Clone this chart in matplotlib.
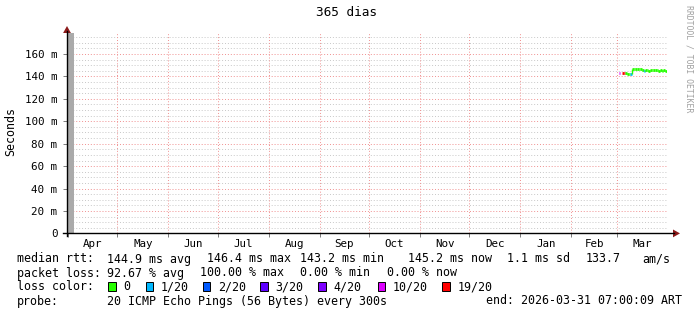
import numpy as np
import matplotlib
matplotlib.use("Agg")
import matplotlib.pyplot as plt
import matplotlib.dates as mdates
from datetime import datetime, timedelta

# ---------------- data ----------------
start = datetime(2025, 3, 31, 7, 0, 9)
end = datetime(2026, 3, 31, 7, 0, 9)

# unknown / gray strip at start
unknown_start = start
unknown_end = datetime(2025, 4, 4, 12, 0)

# daily medians (ms) and loss counts (out of 20) in March 2026
days = [datetime(2026, 3, d) for d in range(2, 32)]
median_ms = [143.5, np.nan, 143.5, 143.5, 142.8, 142.6, 142.6, 142.2,
             146.3, 146.4, 146.3, 146.2, 146.4, 146.3, 146.0, 144.7,
             145.3, 145.3, 145.2, 145.3, 145.4, 145.6, 145.5, 145.3,
             145.2, 145.3, 145.2, 145.3, 145.2, 145.2]
loss = [10, 0, 19, 19, 0, 0, 0, 1,
        0, 0, 0, 0, 0, 0, 0, 1,
        0, 0, 0, 0, 0, 0, 0, 0,
        0, 0, 0, 0, 0, 0]

loss_levels = [0, 1, 2, 3, 4, 10, 19]
loss_labels = ["0", "1/20", "2/20", "3/20", "4/20", "10/20", "19/20"]
loss_colors = ["#26ff00", "#00b8ff", "#0059ff", "#5e00ff", "#7e00ff", "#dd00ff", "#ff0000"]

yticks = [0, 20, 40, 60, 80, 100, 120, 140, 160]
ymax = 179

legend_rows = [
    [("median rtt:", 16.7), ("144.9 ms avg", 107.3), ("146.4 ms max", 207.3),
     ("143.2 ms min", 300.0), ("145.2 ms now", 407.7), ("1.1 ms sd", 506.7),
     ("133.7", 586.0), ("am/s", 642.7)],
    [("packet loss:", 16.7), ("92.67 % avg", 107.3), ("100.00 % max", 200.0),
     ("0.00 % min", 300.0), ("0.00 % now", 386.7)],
]
loss_box_x = [108.3, 145.7, 202.7, 260.0, 318.3, 377.7, 442.3]
probe_text = "20 ICMP Echo Pings (56 Bytes) every 300s"
end_text = "end: 2026-03-31 07:00:09 ART"

# ---------------- figure ----------------
W, H = 697, 315
fig = plt.figure(figsize=(W / 100, H / 100), dpi=100)
fig.patch.set_facecolor("white")
MONO = "DejaVu Sans Mono"

def fx(x):
    return x / W

def fy(y):
    return 1 - y / H

ax = fig.add_axes([fx(67), fy(233.4), 600 / W, 200.7 / H])
ax.set_facecolor("white")

xs = mdates.date2num(start)
xe = mdates.date2num(end)
ax.set_xlim(xs, xe)
ax.set_ylim(0, ymax)

# grids
for v in np.arange(5, ymax, 5):
    if v % 20 == 0:
        continue
    ax.axhline(v, color="#c8c8c8", lw=0.7, ls=(0, (1, 2)), zorder=1)
for v in yticks[1:]:
    ax.axhline(v, color="#f09090", lw=0.7, ls=(0, (1, 2)), zorder=1)

month_starts = []
d = datetime(2025, 4, 1)
while d <= end:
    month_starts.append(d)
    d = datetime(d.year + (d.month // 12), d.month % 12 + 1, 1)
for m in month_starts:
    ax.axvline(mdates.date2num(m), color="#f09090", lw=0.7, ls=(0, (1, 2)), zorder=1)

# month labels centered in months
label_pos = []
label_txt = []
bounds = [start] + month_starts + [datetime(2026, 4, 1)]
for a, b in zip(month_starts[:-0 or None], month_starts[1:] + [datetime(2026, 4, 1)]):
    mid = mdates.date2num(a) + (mdates.date2num(b) - mdates.date2num(a)) / 2
    label_pos.append(mid)
    label_txt.append(a.strftime("%b"))
ax.set_xticks([mdates.date2num(m) for m in month_starts])
ax.set_xticklabels([])
ax.set_xticks(label_pos, minor=True)
ax.set_xticklabels(label_txt, minor=True, fontfamily=MONO, fontsize=7.8)
ax.tick_params(axis="x", which="major", length=3, width=0.6, color="#666666")
ax.tick_params(axis="x", which="minor", length=0, pad=4)

ax.set_yticks(yticks)
ax.set_yticklabels(["0" if v == 0 else f"{v} m" for v in yticks],
                   fontfamily=MONO, fontsize=7.8)
ax.tick_params(axis="y", length=3, width=0.6, pad=4, color="#666666")

for s in ["top", "right", "bottom", "left"]:
    ax.spines[s].set_visible(False)

# gray strip
ax.fill_between([mdates.date2num(unknown_start), mdates.date2num(unknown_end)],
                0, ymax, color="#aaaaaa", lw=0, zorder=2)

# median line, colored by loss
cmap = dict(zip(loss_levels, loss_colors))
dn = [mdates.date2num(x) for x in days]
prev = None
for i, (t, v, l) in enumerate(zip(dn, median_ms, loss)):
    if np.isnan(v):
        prev = None
        continue
    c = cmap[l]
    ax.hlines(v, t, t + 1, color=c, lw=2.0, zorder=4)
    if prev is not None:
        ax.vlines(t, min(prev, v), max(prev, v), color=c, lw=1.0, zorder=4)
    prev = v

# axes lines with arrows
fig.add_artist(plt.Line2D([fx(63), fx(674)], [fy(233.4), fy(233.4)], color="black", lw=1.0))
fig.add_artist(plt.Line2D([fx(67), fx(67)], [fy(236), fy(31)], color="black", lw=1.0))
fig.add_artist(plt.Polygon([[fx(673), fy(229.5)], [fx(680), fy(233.4)], [fx(673), fy(237.3)]],
                           closed=True, color="#8b1a1a", lw=0))
fig.add_artist(plt.Polygon([[fx(63.1), fy(33)], [fx(67), fy(26)], [fx(70.9), fy(33)]],
                           closed=True, color="#8b1a1a", lw=0))

# title, labels
fig.text(fx(347), fy(13), "365 dias", ha="center", va="center", fontfamily=MONO, fontsize=9.2)
fig.text(fx(10.5), fy(131.5), "Seconds", ha="center", va="center", rotation=90,
         fontfamily=MONO, fontsize=8.4)
fig.text(fx(689), fy(5), "RRDTOOL / TOBI OETIKER", ha="center", va="top", rotation=270,
         fontfamily=MONO, fontsize=5.9, color="#a0a0a0")

# legend
row_base = [262.5, 276.5, 290.5, 304.5]
for r, items in enumerate(legend_rows):
    for txt, x in items:
        fig.text(fx(x), fy(row_base[r]), txt, ha="left", va="baseline",
                 fontfamily=MONO, fontsize=8.4)
fig.text(fx(16.7), fy(row_base[2]), "loss color:", ha="left", va="baseline",
         fontfamily=MONO, fontsize=8.4)
for bx, lab, col in zip(loss_box_x, loss_labels, loss_colors):
    fig.add_artist(plt.Rectangle((fx(bx), fy(row_base[2])), 7.5 / W, 8.5 / H,
                                 facecolor=col, edgecolor="black", lw=0.7))
    fig.text(fx(bx + 15), fy(row_base[2]), lab, ha="left", va="baseline",
             fontfamily=MONO, fontsize=8.4)
fig.text(fx(16.7), fy(row_base[3]), "probe:", ha="left", va="baseline",
         fontfamily=MONO, fontsize=8.4)
fig.text(fx(107.3), fy(row_base[3]), probe_text, ha="left", va="baseline",
         fontfamily=MONO, fontsize=8.4)
fig.text(fx(485.7), fy(row_base[3]), end_text, ha="left", va="baseline",
         fontfamily=MONO, fontsize=8.4)

fig.savefig("out.png", dpi=100)
